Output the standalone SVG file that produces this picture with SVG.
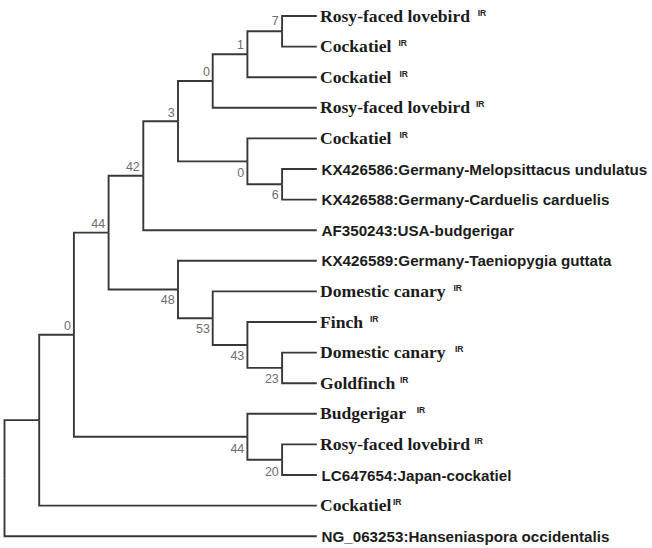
<svg xmlns="http://www.w3.org/2000/svg" width="652" height="548" viewBox="0 0 652 548">
<style>
.edge{fill:none;stroke:#383838;stroke-width:1.9;stroke-linejoin:miter;stroke-linecap:butt}
.tnr{font-family:"Liberation Serif","Times New Roman",serif;font-weight:bold;font-size:17.6px;fill:#1c1c1c}
.ari{font-family:"Liberation Sans",Arial,sans-serif;font-weight:bold;font-size:15.2px;fill:#1c1c1c}
.sup{font-family:"Liberation Sans",Arial,sans-serif;font-weight:bold;font-size:8.5px;fill:#222222}
.bs{font-family:"Liberation Sans",Arial,sans-serif;font-size:12.5px;fill:#6e6e6e;text-anchor:end}
</style>
<rect width="652" height="548" fill="#ffffff"/>
<g id="connectors">
<path class="edge" d="M4.5 478.17 V420.14 H39.2"/>
<path class="edge" d="M4.5 478.17 V536.2 H316.8"/>
<path class="edge" d="M39.2 420.14 V334.68 H73.9"/>
<path class="edge" d="M39.2 420.14 V505.6 H316.8"/>
<path class="edge" d="M73.9 334.68 V232.6 H108.6"/>
<path class="edge" d="M73.9 334.68 V436.75 H247.4"/>
<path class="edge" d="M108.6 232.6 V175.7 H143.3"/>
<path class="edge" d="M108.6 232.6 V289.49 H178"/>
<path class="edge" d="M143.3 175.7 V121.19 H178"/>
<path class="edge" d="M143.3 175.7 V230.2 H316.8"/>
<path class="edge" d="M178 121.19 V81.03 H212.7"/>
<path class="edge" d="M178 121.19 V161.35 H247.4"/>
<path class="edge" d="M212.7 81.03 V54.25 H247.4"/>
<path class="edge" d="M212.7 81.03 V107.8 H316.8"/>
<path class="edge" d="M247.4 54.25 V31.3 H282.1"/>
<path class="edge" d="M247.4 54.25 V77.2 H316.8"/>
<path class="edge" d="M282.1 31.3 V16 H316.8"/>
<path class="edge" d="M282.1 31.3 V46.6 H316.8"/>
<path class="edge" d="M247.4 161.35 V138.4 H316.8"/>
<path class="edge" d="M247.4 161.35 V184.3 H282.1"/>
<path class="edge" d="M282.1 184.3 V169 H316.8"/>
<path class="edge" d="M282.1 184.3 V199.6 H316.8"/>
<path class="edge" d="M178 289.49 V260.8 H316.8"/>
<path class="edge" d="M178 289.49 V318.18 H212.7"/>
<path class="edge" d="M212.7 318.18 V291.4 H316.8"/>
<path class="edge" d="M212.7 318.18 V344.95 H247.4"/>
<path class="edge" d="M247.4 344.95 V322 H316.8"/>
<path class="edge" d="M247.4 344.95 V367.9 H282.1"/>
<path class="edge" d="M282.1 367.9 V352.6 H316.8"/>
<path class="edge" d="M282.1 367.9 V383.2 H316.8"/>
<path class="edge" d="M247.4 436.75 V413.8 H316.8"/>
<path class="edge" d="M247.4 436.75 V459.7 H282.1"/>
<path class="edge" d="M282.1 459.7 V444.4 H316.8"/>
<path class="edge" d="M282.1 459.7 V475 H316.8"/>
</g>
<g id="node-n7"><text class="bs" x="278.6" y="25.3">7</text></g>
<g id="node-n1"><text class="bs" x="243.9" y="49.3">1</text></g>
<g id="node-n0a"><text class="bs" x="210" y="76">0</text></g>
<g id="node-n3"><text class="bs" x="174.6" y="116.7">3</text></g>
<g id="node-n42"><text class="bs" x="139.8" y="170.7">42</text></g>
<g id="node-n44a"><text class="bs" x="105.1" y="228.3">44</text></g>
<g id="node-n0b"><text class="bs" x="244.3" y="176.7">0</text></g>
<g id="node-n6"><text class="bs" x="278.6" y="199.3">6</text></g>
<g id="node-n48"><text class="bs" x="174.6" y="304.3">48</text></g>
<g id="node-n53"><text class="bs" x="210" y="333.3">53</text></g>
<g id="node-n43"><text class="bs" x="244.3" y="360">43</text></g>
<g id="node-n23"><text class="bs" x="278.8" y="383.3">23</text></g>
<g id="node-n0c"><text class="bs" x="71" y="330">0</text></g>
<g id="node-n44b"><text class="bs" x="244.3" y="452.7">44</text></g>
<g id="node-n20"><text class="bs" x="278.8" y="476">20</text></g>
<g id="node-nX"></g>
<g id="node-root"></g>
<g id="leaf-1"><text class="tnr" x="320" y="21.5">Rosy-faced lovebird<tspan class="sup" x="477.7" y="15.5">IR</tspan></text></g>
<g id="leaf-2"><text class="tnr" x="320" y="52.1">Cockatiel<tspan class="sup" x="398.5" y="46.1">IR</tspan></text></g>
<g id="leaf-3"><text class="tnr" x="320" y="82.7">Cockatiel<tspan class="sup" x="399.5" y="76.7">IR</tspan></text></g>
<g id="leaf-4"><text class="tnr" x="320" y="113.3">Rosy-faced lovebird<tspan class="sup" x="476" y="107.3">IR</tspan></text></g>
<g id="leaf-5"><text class="tnr" x="320" y="143.9">Cockatiel<tspan class="sup" x="399.5" y="137.9">IR</tspan></text></g>
<g id="leaf-6"><text class="ari" x="321.5" y="174.5">KX426586:Germany-Melopsittacus undulatus</text></g>
<g id="leaf-7"><text class="ari" x="321.5" y="205.1">KX426588:Germany-Carduelis carduelis</text></g>
<g id="leaf-8"><text class="ari" x="321.5" y="235.7">AF350243:USA-budgerigar</text></g>
<g id="leaf-9"><text class="ari" x="321.5" y="266.3">KX426589:Germany-Taeniopygia guttata</text></g>
<g id="leaf-10"><text class="tnr" x="320" y="296.9">Domestic canary<tspan class="sup" x="453.5" y="290.9">IR</tspan></text></g>
<g id="leaf-11"><text class="tnr" x="320" y="327.5">Finch<tspan class="sup" x="370" y="321.5">IR</tspan></text></g>
<g id="leaf-12"><text class="tnr" x="320" y="358.1">Domestic canary<tspan class="sup" x="455" y="352.1">IR</tspan></text></g>
<g id="leaf-13"><text class="tnr" x="320" y="388.7">Goldfinch<tspan class="sup" x="400" y="382.7">IR</tspan></text></g>
<g id="leaf-14"><text class="tnr" x="320" y="419.3">Budgerigar<tspan class="sup" x="416.7" y="413.3">IR</tspan></text></g>
<g id="leaf-15"><text class="tnr" x="320" y="449.9">Rosy-faced lovebird<tspan class="sup" x="474.5" y="443.9">IR</tspan></text></g>
<g id="leaf-16"><text class="ari" x="321.5" y="480.5">LC647654:Japan-cockatiel</text></g>
<g id="leaf-17"><text class="tnr" x="320" y="511.1">Cockatiel<tspan class="sup" x="393" y="505.1">IR</tspan></text></g>
<g id="leaf-18"><text class="ari" x="321.5" y="541.7">NG_063253:Hanseniaspora occidentalis</text></g>
</svg>
